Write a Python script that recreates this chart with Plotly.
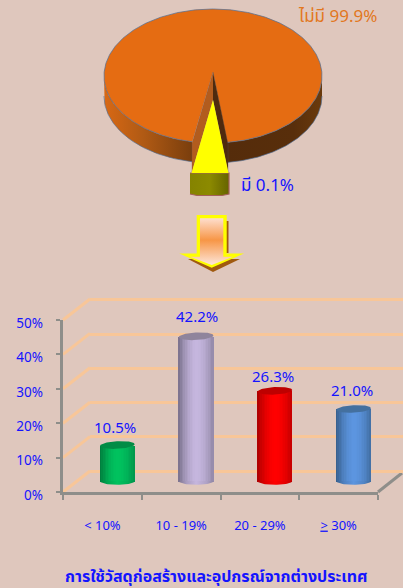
import numpy as np
import plotly.graph_objects as go

W, H = 403, 588
BG = "#DFC7BD"
BLUE = "#1414FF"
FONT = "Tahoma, 'Noto Sans', 'Noto Sans Thai', 'DejaVu Sans', sans-serif"

# data
categories = ["< 10%", "10 - 19%", "20 - 29%", "<u>></u> 30%"]
shares = [10.5, 42.2, 26.3, 21.0]
share_labels = ["10.5%", "42.2%", "26.3%", "21.0%"]
axis_ticks = [0, 10, 20, 30, 40, 50]
axis_tick_labels = ["0%", "10%", "20%", "30%", "40%", "50%"]
pie_labels = ["ไม่มี", "มี"]
pie_values = [99.9, 0.1]
title = "การใช้วัสดุก่อสร้างและอุปกรณ์จากต่างประเทศ"

# bar styling: centre colour, left edge, right edge, top cap
bar_mid = ["#00C25E", "#C5B6DE", "#FF0000", "#5C95E0"]
bar_left = ["#007F3E", "#7E7490", "#B00000", "#38618F"]
bar_right = ["#00914A", "#8E84A2", "#BE0000", "#3E6A9C"]
bar_cap = ["#008C45", "#8F849C", "#BE0000", "#44709F"]


def rgb(h):
    return np.array([int(h[i:i + 2], 16) for i in (1, 3, 5)], float)


def mix(a, b, t):
    c = rgb(a) * (1 - t) + rgb(b) * t
    return "rgb(%d,%d,%d)" % tuple(np.round(c))


def dom_x(a, b):
    return [a / W, min(b / W, 1)]


def dom_y(bottom_px, top_px):
    return [(H - bottom_px) / H, (H - top_px) / H]


fig = go.Figure()


def poly(xs, ys, color=None, grad=None, line=None, lw=0, ax=("x", "y")):
    kw = {}
    if grad:
        kw["fillgradient"] = grad
    else:
        kw["fillcolor"] = color
    fig.add_trace(go.Scatter(x=list(xs), y=list(ys), mode="lines", fill="toself",
                             line=dict(width=lw, color=line or "rgba(0,0,0,0)"),
                             hoverinfo="skip", showlegend=False, xaxis=ax[0], yaxis=ax[1], **kw))


def path(xs, ys, color, lw, ax=("x", "y")):
    fig.add_trace(go.Scatter(x=list(xs), y=list(ys), mode="lines", line=dict(width=lw, color=color),
                             hoverinfo="skip", showlegend=False, xaxis=ax[0], yaxis=ax[1]))


def hgrad(x0, x1, stops):
    return dict(type="horizontal", start=x0, stop=x1, colorscale=stops)


def vgrad(y0, y1, stops):
    return dict(type="vertical", start=y0, stop=y1, colorscale=stops)


# ---------- pie drawing (pixel layer) ----------
CX, CY, RX, RY, DEPTH = 213, 76, 109, 67, 20
T_R, T_L = 82.6, 101.0
APEX = (213, 72)


def arc(a, b, dy=0, n=90):
    t = np.radians(np.linspace(a, b, n))
    return CX + RX * np.cos(t), CY + RY * np.sin(t) + dy


# side, left of wedge
xa, ya = arc(T_L, 180)
xb, yb = arc(180, T_L, DEPTH)
poly(np.r_[xa, xb], np.r_[ya, yb],
     grad=hgrad(CX - RX, 192, [[0, "#D86814"], [0.45, "#B05A14"], [1, "#7A3E0D"]]))
# side, right of wedge
xa, ya = arc(T_R, 0)
xb, yb = arc(0, T_R, DEPTH)
poly(np.r_[xa, xb], np.r_[ya, yb], grad=hgrad(227, CX + RX, [[0, "#552C0B"], [0.7, "#582E0B"], [1, "#6A3A0C"]]))
# outline under side
xb, yb = arc(T_L, 180, DEPTH)
path(xb, yb, "rgba(80,110,150,0.65)", 1)
xb, yb = arc(0, T_R, DEPTH)
path(xb, yb, "rgba(80,110,150,0.65)", 1)
# top
xa, ya = arc(T_R, T_L - 360, n=360)
poly(np.r_[APEX[0], xa], np.r_[APEX[1], ya], color="#E56C12")
path(xa, ya, "rgba(80,110,150,0.7)", 1)
# wedge walls
poly([213, 192, 192, 213], [72, 143, 172, 100], color="#B25C1E", line="rgba(120,90,80,0.6)", lw=0.5)
poly([213, 228, 228, 213], [72, 144, 172, 100], color="#4E2A0E", line="rgba(90,80,80,0.6)", lw=0.5)
# pulled slice
poly([190, 229, 229, 222, 197, 190], [173, 173, 194, 195.5, 195.5, 194],
     grad=hgrad(190, 229, [[0, "#858300"], [0.5, "#8C8A00"], [1, "#666400"]]), line="#A4605A", lw=1.2)
poly([213, 228.5, 191.5], [100, 173, 173], color="#FFFF00")

# pie labels
fig.add_annotation(x=337, y=15, xref="x", yref="y", text=f"{pie_labels[0]} {pie_values[0]}%", showarrow=False,
                   font=dict(size=17, color="#E2771E", family=FONT))
fig.add_annotation(x=267, y=184, xref="x", yref="y", text=f"{pie_labels[1]} {pie_values[1]}%", showarrow=False,
                   font=dict(size=17, color=BLUE, family=FONT))

# ---------- arrow ----------
poly([226, 228.5, 228.5, 226], [221, 221, 253, 253], color="#A05A10")
poly([188, 240, 213], [259, 259, 272], color="#A05A10")
poly([196.7, 226.7, 226.7, 244, 211.7, 179.3, 196.7], [215, 215, 253.5, 253.5, 267.7, 253.5, 253.5], color="#FFFF00")
poly([200, 223.3, 223.3, 233, 211.7, 190, 200], [218.3, 218.3, 256.7, 256.7, 265, 256.7, 256.7],
     grad=vgrad(218, 265, [[0, "#FEDFCF"], [0.47, "#F79646"], [1, "#FDE6DA"]]))

# ---------- side wall diagonals + floor (pixel layer) ----------
for v in axis_ticks:
    y0 = 492 - v * 3.44
    path([63, 90], [y0, y0 - 21], "#F8C698", 3)
path([378, 402], [492, 473], "#8E8E8A", 3)

# ---------- back wall grid ----------
fig.add_trace(go.Scatter(x=[0], y=[0], mode="markers", marker=dict(opacity=0), hoverinfo="skip",
                         showlegend=False, xaxis="x2", yaxis="y2"))

# ---------- bars ----------
positions = list(range(len(categories)))
BAR_W = 0.44
N = 21
edges = np.linspace(-1, 1, N + 1)
for i in range(N):
    t = (edges[i] + edges[i + 1]) / 2
    colors = []
    for m, l, r in zip(bar_mid, bar_left, bar_right):
        f = min(abs(t - 0.05) ** 1.8, 1)
        colors.append(mix(m, l if t < 0.05 else r, f))
    fig.add_trace(go.Bar(x=positions, y=shares, width=[BAR_W / N * 1.15] * 4,
                         offset=[edges[i] * BAR_W / 2] * 4, marker=dict(color=colors, line=dict(width=0)),
                         hoverinfo="skip", showlegend=False, xaxis="x3", yaxis="y3"))

RXB, RYB = BAR_W / 2, 1.1
for p, v, m, l, r, c in zip(positions, shares, bar_mid, bar_left, bar_right, bar_cap):
    t = np.radians(np.linspace(0, 180, 40))
    stops = [[0, l], [0.22, mix(m, l, 0.4)], [0.5, m], [0.8, mix(m, r, 0.4)], [1, r]]
    poly(p + RXB * np.cos(t), -RYB * np.sin(t), grad=hgrad(p - RXB, p + RXB, stops), ax=("x3", "y3"))
    t = np.radians(np.linspace(0, 360, 60))
    poly(p + RXB * np.cos(t), v + RYB * np.sin(t) + 0.25 * np.cos(t), color=c, ax=("x3", "y3"))

label_dy = [-18.5, -20, -15, -18.5]
label_dx = [-2, 1, -2, -2]
for p, v, s, dy, dx in zip(positions, shares, share_labels, label_dy, label_dx):
    fig.add_annotation(x=p, y=v, xref="x3", yref="y3", text=s, showarrow=False, yshift=-dy, xshift=dx,
                       font=dict(size=15, color=BLUE, family=FONT))

# ---------- tick axes ----------
fig.add_trace(go.Scatter(x=categories, y=[0] * 4, mode="markers", marker=dict(opacity=0), hoverinfo="skip",
                         showlegend=False, xaxis="x4", yaxis="y4"))
fig.add_trace(go.Scatter(x=[0], y=[0], mode="markers", marker=dict(opacity=0), hoverinfo="skip",
                         showlegend=False, xaxis="x5", yaxis="y5"))

fig.add_annotation(x=216, y=576, xref="x", yref="y", text=f"<b>{title}</b>", showarrow=False,
                   font=dict(size=16, color=BLUE, family=FONT))

off = dict(visible=False, fixedrange=True, automargin=False)
GRAY = "#8E8E8A"
PX = 3.44
fig.update_layout(
    template="none",
    width=W, height=H, margin=dict(l=0, r=0, t=0, b=0, pad=0, autoexpand=False), autosize=False,
    paper_bgcolor=BG, plot_bgcolor="rgba(0,0,0,0)", barmode="overlay", bargap=0, showlegend=False,
    xaxis=dict(domain=[0, 1], range=[0, W], **off),
    yaxis=dict(domain=[0, 1], range=[H, 0], **off),
    xaxis2=dict(domain=dom_x(90, 403), range=[0, 1], **off, anchor="y2"),
    yaxis2=dict(domain=dom_y(471 + PX, 300 - PX), range=[-1, 51], anchor="x2", tickvals=axis_ticks, showgrid=True,
                gridcolor="#F8C698", gridwidth=3, zeroline=False, showline=False, showticklabels=False, ticks="",
                fixedrange=True, automargin=False),
    xaxis3=dict(domain=dom_x(78, 393), range=[-0.5, 3.5], **off, anchor="y3"),
    yaxis3=dict(domain=dom_y(481 + 3 * PX, 309.5), range=[-3, 50], **off, anchor="x3"),
    xaxis4=dict(domain=dom_x(63, 378), range=[-0.5, 3.5], type="category", categoryorder="array",
                categoryarray=categories, anchor="y4", tickson="boundaries", ticks="outside", ticklen=5,
                tickwidth=2, tickcolor=GRAY, showline=True, linecolor=GRAY, linewidth=3, showgrid=False,
                ticklabelstandoff=19, tickfont=dict(size=13, color=BLUE, family=FONT), fixedrange=True,
                automargin=False),
    yaxis4=dict(domain=dom_y(492, 320), range=[0, 50], anchor="x4", tickvals=axis_ticks, showticklabels=False,
                ticks="outside", ticklen=4, tickwidth=2, tickcolor=GRAY, showline=True, linecolor=GRAY, linewidth=3,
                showgrid=False, zeroline=False, fixedrange=True, automargin=False),
    xaxis5=dict(domain=dom_x(63, 378), range=[-1, 1], **off, anchor="y5"),
    yaxis5=dict(domain=dom_y(495, 323), range=[0, 50], anchor="x5", tickvals=axis_ticks, ticktext=axis_tick_labels,
                ticks="", showline=False, showgrid=False, zeroline=False, ticklabelstandoff=19,
                tickfont=dict(size=13.5, color=BLUE, family=FONT), fixedrange=True, automargin=False),
)

fig.write_html("out.html", config=dict(displayModeBar=False),
               post_script=f"document.body.style.margin='0';document.body.style.background='{BG}';")
